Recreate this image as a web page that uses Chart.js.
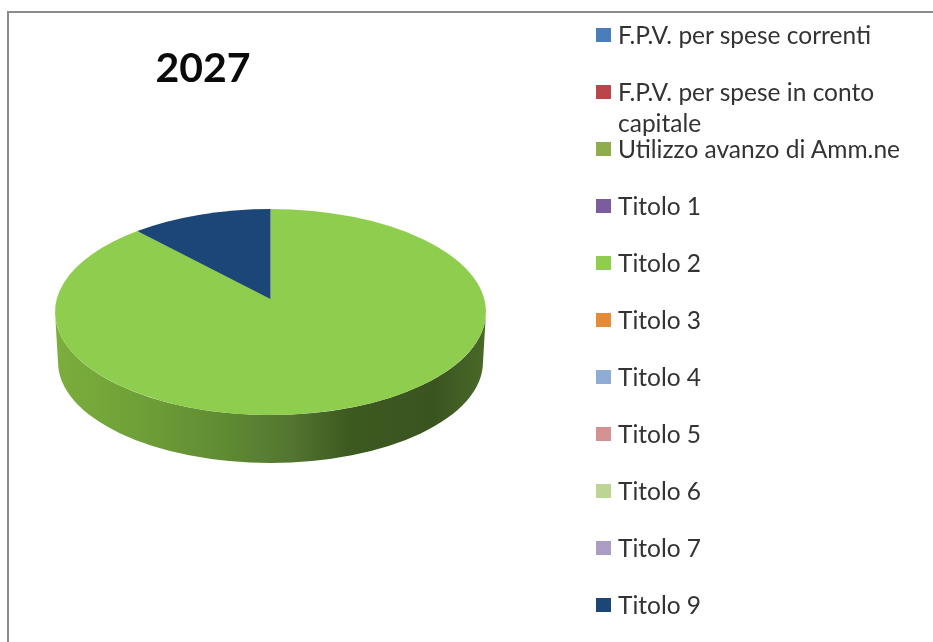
<!DOCTYPE html>
<html>
<head>
<meta charset="utf-8">
<script src="https://cdn.jsdelivr.net/npm/chart.js@4"></script>
<style>
  html, body { margin: 0; padding: 0; background: #fff; }
  #wrap { position: relative; width: 933px; height: 642px; overflow: hidden; font-family: Lato, sans-serif; }
  #frame { position: absolute; left: 7px; top: 11px; right: -5px; bottom: -5px; border-left: 2px solid #8c8c8c; border-top: 2px solid #8c8c8c; }
  #grafico { position: absolute; left: 0; top: 0; }
  #titolo { position: absolute; left: 103px; width: 200px; top: 42px; text-align: center; font-size: 41px; line-height: 50px; font-weight: 700; color: #0a0a0a; }
  #legenda .voce { position: absolute; left: 618px; width: 310px; font-size: 24.5px; line-height: 31px; color: #333; white-space: pre-line; }
  #legenda .quad { position: absolute; left: 596px; width: 15px; height: 14px; }
</style>
</head>
<body>
<div id="wrap">
  <div id="frame"></div>
  <canvas id="grafico" width="933" height="642"></canvas>
  <div id="titolo"></div>
  <div id="legenda"></div>
</div>
<script>
const anno = '2027';
const categorie = ['F.P.V. per spese correnti', 'F.P.V. per spese in conto capitale', 'Utilizzo avanzo di Amm.ne',
  'Titolo 1', 'Titolo 2', 'Titolo 3', 'Titolo 4', 'Titolo 5', 'Titolo 6', 'Titolo 7', 'Titolo 9'];
const valori = [0, 0, 0, 0, 89.4, 0, 0, 0, 0, 0, 10.6];
const colori = ['#4a7ebb', '#b8464a', '#8fad4c', '#7b5c9e', '#8ecd4e', '#e58a36', '#8fadd4', '#d49391', '#bcd494', '#ad9cc4', '#1b4677'];

const schiacciamento = 0.478; // altezza/larghezza dell'ellisse superiore
const spessore = 50;
const restringe = 3;
const alzaVertice = 13; // la prospettiva alza il vertice delle fette

// finto 3D: fianco sotto il disco, disco schiacciato, vertice spostato
const torta3d = {
  id: 'torta3d',
  beforeDatasetsDraw(chart) {
    const ctx = chart.ctx;
    const arco = chart.getDatasetMeta(0).data[4];
    const cx = arco.x, cy = arco.y, r = arco.outerRadius;
    const b = r * schiacciamento;
    const grad = ctx.createLinearGradient(cx - r, 0, cx + r, 0);
    grad.addColorStop(0, '#7bae3c');
    grad.addColorStop(0.2, '#6f9f38');
    grad.addColorStop(0.4, '#5f8a33');
    grad.addColorStop(0.55, '#527530');
    grad.addColorStop(0.68, '#3d5a20');
    grad.addColorStop(0.88, '#3a5420');
    grad.addColorStop(1, '#4a6a28');
    ctx.save();
    ctx.beginPath();
    ctx.ellipse(cx, cy, r, b, 0, Math.PI, 0, true);
    ctx.lineTo(cx + r - restringe, cy + spessore);
    ctx.ellipse(cx, cy + spessore, r - restringe, b - 2, 0, 0, Math.PI, false);
    ctx.closePath();
    ctx.fillStyle = grad;
    ctx.fill();
    ctx.restore();
    ctx.save();
    ctx.translate(0, cy);
    ctx.scale(1, schiacciamento);
    ctx.translate(0, -cy);
  },
  afterDatasetsDraw(chart) {
    const ctx = chart.ctx;
    ctx.restore();
    const meta = chart.getDatasetMeta(0);
    const arco = meta.data[10];
    const cx = arco.x, cy = arco.y, r = arco.outerRadius;
    const ex = cx + r * Math.cos(arco.startAngle);
    const ey = cy + r * schiacciamento * Math.sin(arco.startAngle);
    ctx.save();
    ctx.beginPath();
    ctx.moveTo(ex, ey);
    ctx.lineTo(cx, cy - alzaVertice);
    ctx.lineTo(cx + 1.5, cy - alzaVertice + 2);
    ctx.lineTo(cx + 1.5, cy + 3);
    ctx.lineTo(cx - 1, cy + 3);
    ctx.closePath();
    ctx.fillStyle = colori[4];
    ctx.fill();
    ctx.restore();
  }
};

new Chart(document.getElementById('grafico'), {
  type: 'pie',
  data: {
    labels: categorie,
    datasets: [{ data: valori, backgroundColor: colori, borderWidth: 0 }]
  },
  options: {
    responsive: false,
    animation: false,
    layout: { padding: { left: 55, right: 447, top: 96.5, bottom: 114.5 } },
    plugins: {
      legend: { display: false },
      tooltip: { enabled: false }
    }
  },
  plugins: [torta3d]
});

document.getElementById('titolo').textContent = anno;

// legenda a passo fisso, come nell'originale
const legenda = document.getElementById('legenda');
categorie.forEach((nome, i) => {
  const yc = 35 + i * 57;
  const quad = document.createElement('div');
  quad.className = 'quad';
  quad.style.top = (yc - 7) + 'px';
  quad.style.background = colori[i];
  const voce = document.createElement('div');
  voce.className = 'voce';
  voce.style.top = (yc - 16) + 'px';
  voce.textContent = nome.replace(' capitale', '\ncapitale');
  legenda.appendChild(quad);
  legenda.appendChild(voce);
});
</script>
</body>
</html>
